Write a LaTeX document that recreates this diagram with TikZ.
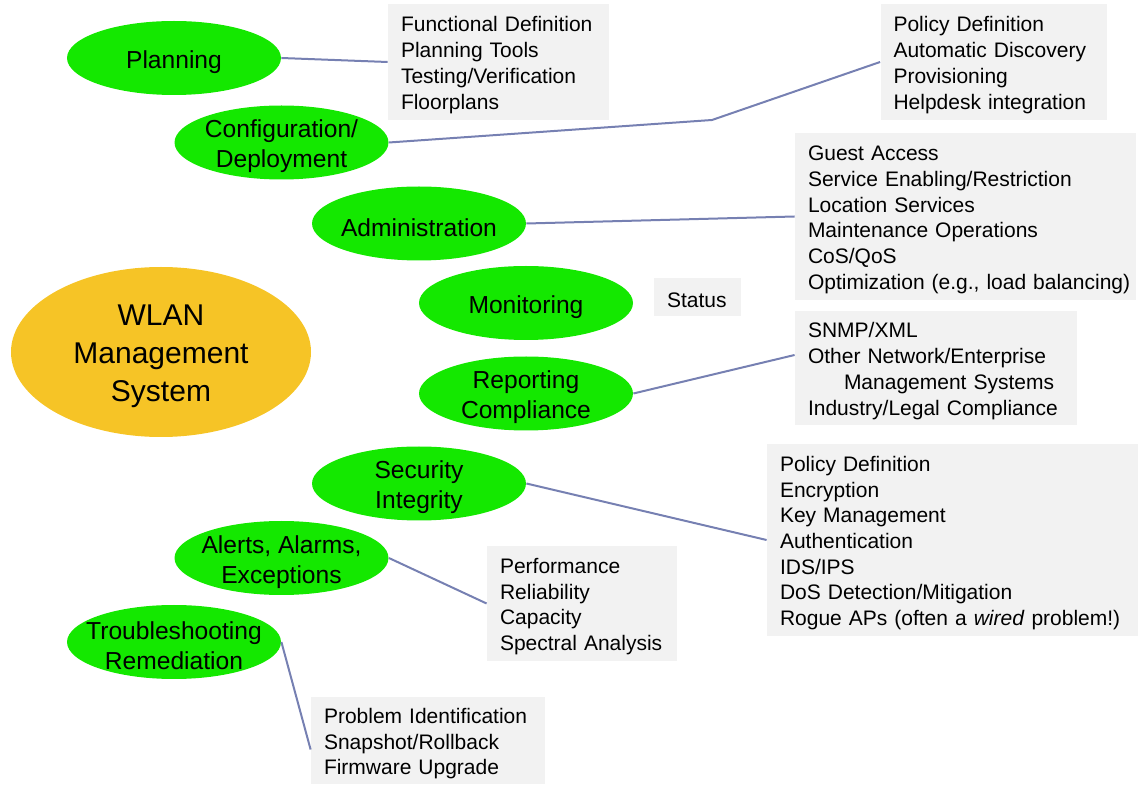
\documentclass[tikz,border=0pt]{standalone}
\usepackage{fontspec}
\setmainfont{Liberation Sans}
\usetikzlibrary{shapes.geometric}
\definecolor{ellgreen}{RGB}{20,232,0}
\definecolor{ellorange}{RGB}{246,196,38}
\definecolor{boxgray}{RGB}{242,242,242}
\definecolor{conn}{RGB}{118,128,178}
\begin{document}
\begin{tikzpicture}[x=0.5pt,y=-0.5pt,
  ell/.style={ellipse, fill=ellgreen, inner sep=0pt, minimum width=107pt, minimum height=37pt},
  elltext/.style={font=\fontsize{12.3}{15}\selectfont, align=center, text=black, inner sep=0pt, yshift=-2pt},
  listbox/.style={fill=boxgray, inner xsep=6.5pt, inner ysep=0pt, align=left, font=\fontsize{10.5}{12.85}\selectfont,
    execute at begin node={\rule{0pt}{10.7pt}}},
  link/.style={draw=conn, line width=1pt}]
\useasboundingbox (0,0) rectangle (1148,786);

% central node
\node[ellipse, fill=ellorange, inner sep=0pt, minimum width=150pt, minimum height=85pt,
  label={[elltext, font=\fontsize{15}{19}\selectfont]center:WLAN\\Management\\System}] (wlan) at (161,352) {};

% category ellipses
\node[ell, label={[elltext]center:Planning}] (plan) at (174,58) {};
\node[ell, label={[elltext]center:Configuration/\\Deployment}] (conf) at (281.5,142.5) {};
\node[ell, label={[elltext]center:Administration}] (adm) at (419,223.5) {};
\node[ell, label={[elltext]center:Monitoring}] (mon) at (526,303) {};
\node[ell, label={[elltext]center:Reporting\\Compliance}] (rep) at (526,393.5) {};
\node[ell, label={[elltext]center:Security\\Integrity}] (sec) at (419,483.5) {};
\node[ell, label={[elltext]center:Alerts, Alarms,\\Exceptions}] (alr) at (281.5,558) {};
\node[ell, label={[elltext]center:Troubleshooting\\Remediation}] (trb) at (174,642) {};

% list boxes
\node[listbox, text width=97.5pt, minimum height=58pt] (b1) at (498.5,62)
  {Functional Definition\\Planning Tools\\Testing/Verification\\Floorplans};
\node[listbox, text width=100pt, minimum height=58pt] (b2) at (993.5,62)
  {Policy Definition\\Automatic Discovery\\Provisioning\\Helpdesk integration};
\node[listbox, text width=157.5pt, minimum height=83.5pt] (b3) at (965.5,216.5)
  {Guest Access\\Service Enabling/Restriction\\Location Services\\Maintenance Operations\\CoS/QoS\\\mbox{Optimization (e.g., load balancing)}};
\node[listbox, text width=30.5pt, minimum height=19pt] (b4) at (697.5,297)
  {\mbox{Status}};
\node[listbox, text width=128pt, minimum height=57pt] (b5) at (936,368)
  {SNMP/XML\\\mbox{Other Network/Enterprise}\\\mbox{\hspace*{18pt}Management Systems}\\\mbox{Industry/Legal Compliance}};
\node[listbox, text width=172.5pt, minimum height=96pt] (b6) at (952.5,540)
  {Policy Definition\\Encryption\\Key Management\\Authentication\\IDS/IPS\\DoS Detection/Mitigation\\\mbox{Rogue APs (often a \emph{wired} problem!)}};
\node[listbox, text width=82pt, minimum height=57.5pt] (b7) at (582,603.5)
  {Performance\\Reliability\\Capacity\\\mbox{Spectral Analysis}};
\node[listbox, text width=104pt, minimum height=43.5pt] (b8) at (428,740.5)
  {\mbox{Problem Identification}\\Snapshot/Rollback\\Firmware Upgrade};

% connectors
\coordinate (cbend) at (712,120);
\draw[link] (plan.east) -- (b1.west);
\draw[link] (conf.east) -- (cbend) -- (b2.west);
\draw[link] (adm.east) -- (b3.west);
\draw[link] (rep.east) -- ([yshift=6.5pt]b5.west);
\draw[link] (sec.east) -- (b6.west);
\draw[link] (alr.east) -- (b7.west);
\draw[link] (trb.east) -- ([yshift=-4.5pt]b8.west);
\end{tikzpicture}
\end{document}
